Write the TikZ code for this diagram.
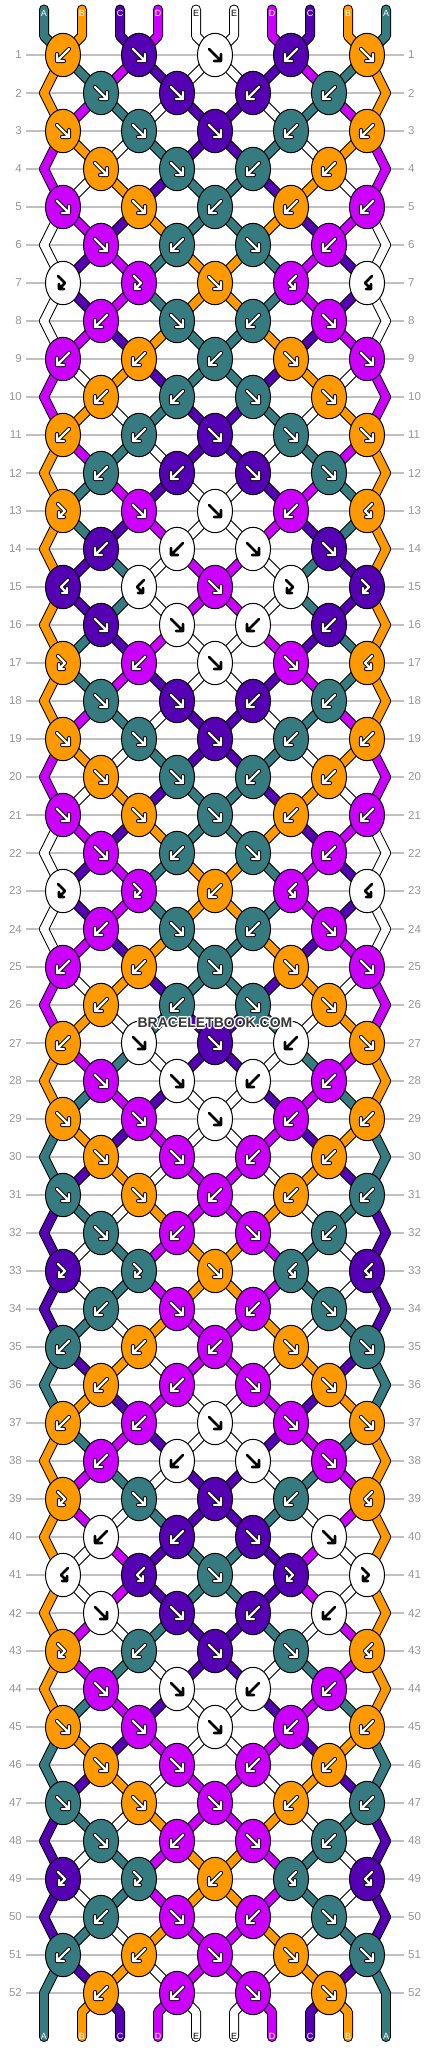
\documentclass[tikz,border=0pt]{standalone}
\usepackage{fontspec}
\setmainfont{Liberation Sans}
\usetikzlibrary{shapes.geometric,backgrounds}

\definecolor{colT}{RGB}{54,123,128}
\definecolor{colO}{RGB}{255,153,0}
\definecolor{colP}{RGB}{85,0,178}
\definecolor{colM}{RGB}{204,0,255}
\definecolor{colW}{RGB}{255,255,255}
\definecolor{rowgrey}{RGB}{192,192,192}
\definecolor{numgrey}{RGB}{150,150,150}
\definecolor{wmgrey}{RGB}{55,55,55}

\tikzset{
  knot/.style={ellipse, draw=black, line width=1pt, minimum width=35pt, minimum height=43.4pt, inner sep=0pt},
  rowline/.style={rowgrey, line width=1.2pt},
  rownum/.style={numgrey, font=\fontsize{11.5}{12}\selectfont, inner sep=0pt},
  strandout/.style={black, line width=10pt, line cap=round, line join=round},
  strandin/.style={line width=8pt, line cap=round, line join=round},
  endlabel/.style={font=\fontsize{9}{10}\selectfont, inner sep=0pt},
  arrback/.style={black, line width=4.2pt, line cap=round, line join=round},
  arrfront/.style={white, line width=2.2pt, line cap=round, line join=round},
  arrblack/.style={black, line width=2.6pt, line cap=round, line join=round},
  wmark/.style={font=\fontsize{14}{14}\selectfont\bfseries, inner sep=0pt}
}

% knot symbols: forward, backward, forward-backward, backward-forward
\def\arrpathf{(-6,-6) -- (6,6) (-1,6) -- (6,6) -- (6,-1)}
\def\arrpathb{(6,-6) -- (-6,6) (1,6) -- (-6,6) -- (-6,-1)}
\def\arrpathfb{(-5,-7) -- (2,0) -- (-4,6) (1,6) -- (-4,6) -- (-4,1)}
\def\arrpathbf{(5,-7) -- (-2,0) -- (4,6) (-1,6) -- (4,6) -- (4,1)}

% name of the point that holds string position #2 on row #1
\newcommand\ptname[2]{%
  \ifnum#1=0\relax \edef\pn{top-#2}\else
  \ifnum#1=53\relax \edef\pn{bot-#2}\else
  \ifodd#1\relax
    \pgfmathtruncatemacro\kk{#2-mod(#2,2)}\edef\pn{K-#1-\kk}%
  \else
    \ifnum#2=0\relax \edef\pn{edge-#1-0}\else
    \ifnum#2=9\relax \edef\pn{edge-#1-9}\else
      \pgfmathtruncatemacro\kk{#2-1+mod(#2,2)}\edef\pn{K-#1-\kk}%
    \fi\fi
  \fi\fi\fi}

\begin{document}
\begin{tikzpicture}[x=1pt, y=-1pt]
\useasboundingbox (0,0) rectangle (430,2048);

    % row numbers
    \foreach \rw in {1,...,52} {
        \node[rownum, anchor=east] (L-\rw) at (22,{55+38*(\rw-1)}) {\rw};
        \node[rownum, anchor=west] (R-\rw) at (408,{55+38*(\rw-1)}) {\rw};
    }

    % string ends and edge turns
    \foreach \lab [count=\pj from 0] in {A,B,C,D,E,E,D,C,B,A} {
        \coordinate (tcap-\pj) at ({44+38*\pj},9.5);
        \coordinate (top-\pj) at ({44+38*\pj},36);
        \coordinate (bot-\pj) at ({44+38*\pj},2012);
        \coordinate (bcap-\pj) at ({44+38*\pj},2037);
        \if\lab E
            \node[endlabel, text=black] (lab-top-\pj) at ({44+38*\pj},13) {\lab};
            \node[endlabel, text=black] (lab-bot-\pj) at ({44+38*\pj},2036) {\lab};
        \else
            \node[endlabel, text=white] (lab-top-\pj) at ({44+38*\pj},13) {\lab};
            \node[endlabel, text=white] (lab-bot-\pj) at ({44+38*\pj},2036) {\lab};
        \fi
    }
    \foreach \rw in {2,4,...,52} {
        \coordinate (edge-\rw-0) at (44,{55+38*(\rw-1)});
        \coordinate (edge-\rw-9) at (386,{55+38*(\rw-1)});
    }

    % knots: colour/type
    \foreach \rw/\row in {
        1/{O/b,P/f,W/f,P/b,O/f}, 2/{T/f,P/f,P/b,T/b},
        3/{O/f,T/f,P/f,T/b,O/b}, 4/{O/f,T/f,T/b,O/b},
        5/{M/f,O/f,T/b,O/b,M/b}, 6/{M/f,T/b,T/f,M/b},
        7/{W/fb,M/fb,O/f,M/bf,W/bf}, 8/{M/b,T/f,T/b,M/f},
        9/{M/b,O/b,T/b,O/f,M/f}, 10/{O/b,T/b,T/f,O/f},
        11/{O/b,T/b,P/f,T/f,O/f}, 12/{T/b,P/b,P/f,T/f},
        13/{O/fb,M/f,W/f,M/b,O/bf}, 14/{P/b,W/b,W/f,P/f},
        15/{P/bf,W/bf,M/f,W/fb,P/fb}, 16/{P/f,W/f,W/b,P/b},
        17/{O/fb,M/b,W/f,M/f,O/bf}, 18/{T/f,P/f,P/b,T/b},
        19/{O/f,T/f,P/f,T/b,O/b}, 20/{O/f,T/f,T/b,O/b},
        21/{M/f,O/f,T/f,O/b,M/b}, 22/{M/f,T/b,T/f,M/b},
        23/{W/fb,M/fb,O/b,M/bf,W/bf}, 24/{M/b,T/f,T/b,M/f},
        25/{M/b,O/b,T/f,O/f,M/f}, 26/{O/b,T/b,T/f,O/f},
        27/{O/b,W/f,P/f,W/b,O/f}, 28/{M/f,W/f,W/b,M/b},
        29/{O/f,M/f,W/f,M/b,O/b}, 30/{O/f,M/f,M/b,O/b},
        31/{T/f,O/f,M/b,O/b,T/b}, 32/{T/f,M/b,M/f,T/b},
        33/{P/fb,T/fb,O/f,T/bf,P/bf}, 34/{T/b,M/f,M/b,T/f},
        35/{T/b,O/b,M/b,O/f,T/f}, 36/{O/b,M/b,M/f,O/f},
        37/{O/b,M/b,W/f,M/f,O/f}, 38/{M/b,W/b,W/f,M/f},
        39/{O/fb,T/f,P/f,T/b,O/bf}, 40/{W/b,P/b,P/f,W/f},
        41/{W/bf,P/bf,T/f,P/fb,W/fb}, 42/{W/f,P/f,P/b,W/b},
        43/{O/fb,T/b,P/f,T/f,O/bf}, 44/{M/f,W/f,W/b,M/b},
        45/{O/f,M/f,W/f,M/b,O/b}, 46/{O/f,M/f,M/b,O/b},
        47/{T/f,O/f,M/f,O/b,T/b}, 48/{T/f,M/b,M/f,T/b},
        49/{P/fb,T/fb,O/b,T/bf,P/bf}, 50/{T/b,M/f,M/b,T/f},
        51/{T/b,O/b,M/f,O/f,T/f}, 52/{O/b,M/b,M/f,O/f}} {
        \foreach \kc/\kt [count=\ki from 0] in \row {
            \pgfmathtruncatemacro\kn{2*\ki+1-mod(\rw,2)}
            \node[knot, fill=col\kc] (K-\rw-\kn) at ({63+38*\kn},{55+38*(\rw-1)}) {};
            \expandafter\let\expandafter\arrpath\csname arrpath\kt\endcsname
            \if\kc W
                \draw[arrblack, shift={(K-\rw-\kn.center)}] \arrpath;
            \else
                \draw[arrback, shift={(K-\rw-\kn.center)}] \arrpath;
                \draw[arrfront, shift={(K-\rw-\kn.center)}] \arrpath;
            \fi
        }
    }

    % strings between rows: colour at each position after the row
    \begin{scope}[on background layer]
    \foreach \rw in {1,...,52}
        \draw[rowline] ([xshift=4pt]L-\rw.east) -- ([xshift=-4pt]R-\rw.west);
    \foreach \pass in {0,1} {
        \foreach \rw/\ord in {
            0/{T,O,P,M,W,W,M,P,O,T}, 1/{O,T,M,P,W,W,P,M,T,O},
            2/{O,M,T,W,P,P,W,T,M,O}, 3/{M,O,W,T,P,P,T,W,O,M},
            4/{M,W,O,P,T,T,P,O,W,M}, 5/{W,M,P,O,T,T,O,P,M,W},
            6/{W,P,M,T,O,O,T,M,P,W}, 7/{W,P,M,T,O,O,T,M,P,W},
            8/{W,M,P,O,T,T,O,P,M,W}, 9/{M,W,O,P,T,T,P,O,W,M},
            10/{M,O,W,T,P,P,T,W,O,M}, 11/{O,M,T,W,P,P,W,T,M,O},
            12/{O,T,M,P,W,W,P,M,T,O}, 13/{O,T,P,M,W,W,M,P,T,O},
            14/{O,P,T,W,M,M,W,T,P,O}, 15/{O,P,T,W,M,M,W,T,P,O},
            16/{O,T,P,M,W,W,M,P,T,O}, 17/{O,T,M,P,W,W,P,M,T,O},
            18/{O,M,T,W,P,P,W,T,M,O}, 19/{M,O,W,T,P,P,T,W,O,M},
            20/{M,W,O,P,T,T,P,O,W,M}, 21/{W,M,P,O,T,T,O,P,M,W},
            22/{W,P,M,T,O,O,T,M,P,W}, 23/{W,P,M,T,O,O,T,M,P,W},
            24/{W,M,P,O,T,T,O,P,M,W}, 25/{M,W,O,P,T,T,P,O,W,M},
            26/{M,O,W,T,P,P,T,W,O,M}, 27/{O,M,T,W,P,P,W,T,M,O},
            28/{O,T,M,P,W,W,P,M,T,O}, 29/{T,O,P,M,W,W,M,P,O,T},
            30/{T,P,O,W,M,M,W,O,P,T}, 31/{P,T,W,O,M,M,O,W,T,P},
            32/{P,W,T,M,O,O,M,T,W,P}, 33/{P,W,T,M,O,O,M,T,W,P},
            34/{P,T,W,O,M,M,O,W,T,P}, 35/{T,P,O,W,M,M,W,O,P,T},
            36/{T,O,P,M,W,W,M,P,O,T}, 37/{O,T,M,P,W,W,P,M,T,O},
            38/{O,M,T,W,P,P,W,T,M,O}, 39/{O,M,W,T,P,P,T,W,M,O},
            40/{O,W,M,P,T,T,P,M,W,O}, 41/{O,W,M,P,T,T,P,M,W,O},
            42/{O,M,W,T,P,P,T,W,M,O}, 43/{O,M,T,W,P,P,W,T,M,O},
            44/{O,T,M,P,W,W,P,M,T,O}, 45/{T,O,P,M,W,W,M,P,O,T},
            46/{T,P,O,W,M,M,W,O,P,T}, 47/{P,T,W,O,M,M,O,W,T,P},
            48/{P,W,T,M,O,O,M,T,W,P}, 49/{P,W,T,M,O,O,M,T,W,P},
            50/{P,T,W,O,M,M,O,W,T,P}, 51/{T,P,O,W,M,M,W,O,P,T},
            52/{T,O,P,M,W,W,M,P,O,T}} {
            \pgfmathtruncatemacro\rn{\rw+1}
            \foreach \scol [count=\pj from 0] in \ord {
                \ptname{\rw}{\pj}\let\pa\pn
                \ptname{\rn}{\pj}\let\pb\pn
                \ifnum\rw=0\relax \edef\pre{(tcap-\pj) --}\else\def\pre{}\fi
                \ifnum\rw=52\relax \edef\post{-- (bcap-\pj)}\else\def\post{}\fi
                \ifnum\pass=0\relax
                    \draw[strandout] \pre (\pa.center) -- (\pb.center) \post;
                \else
                    \draw[strandin, color=col\scol] \pre (\pa.center) -- (\pb.center) \post;
                \fi
            }
        }
    }
    \end{scope}

    % watermark
    \foreach \dx/\dy [count=\wi] in {-1.2/0,1.2/0,0/-1.2,0/1.2,-0.9/-0.9,0.9/-0.9,-0.9/0.9,0.9/0.9}
        \node[wmark, text=white] (wm-\wi) at ({215+\dx},{1023+\dy}) {BRACELETBOOK.COM};
    \node[wmark, text=wmgrey] (wm) at (215,1023) {BRACELETBOOK.COM};

\end{tikzpicture}
\end{document}
